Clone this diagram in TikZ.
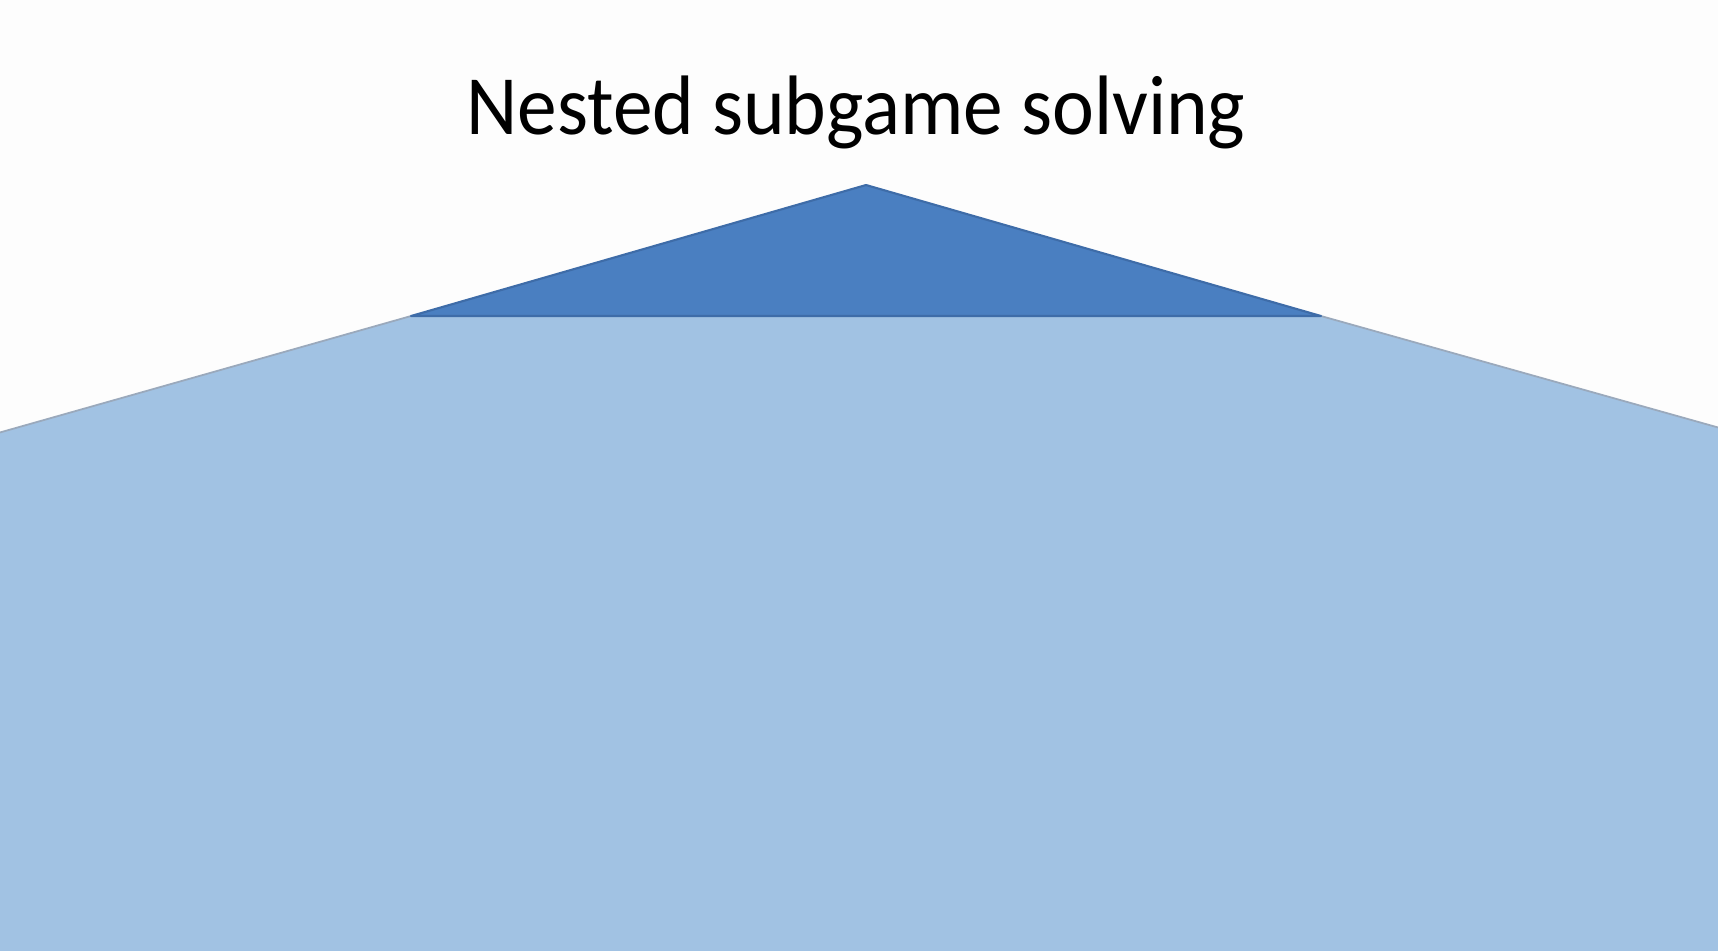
\documentclass[tikz,border=0pt]{standalone}
\usepackage{fontspec}
\setmainfont{Carlito}[FakeStretch=0.94]
\definecolor{bgwhite}{HTML}{FDFDFD}
\definecolor{darkblue}{HTML}{4A7FC1}
\definecolor{darkedge}{HTML}{3E6CA8}
\definecolor{lightblue}{HTML}{A1C2E3}
\definecolor{lightedge}{HTML}{9AA9BC}
\begin{document}
\begin{tikzpicture}[x=0.01cm,y=-0.01cm,
  titletext/.style={anchor=base,font=\fontsize{24}{28}\selectfont,text=black,inner sep=0pt},
  lightregion/.style={fill=lightblue},
  lightborder/.style={draw=lightedge,line width=0.5pt},
  darktri/.style={fill=darkblue,draw=darkedge,line width=0.6pt,line join=round}]
\fill[bgwhite] (0,0) rectangle (1718,950);
\useasboundingbox (0,0) rectangle (1718,950);
\coordinate (apex) at (866,185);
\coordinate (bl) at (411,316);
\coordinate (br) at (1321,316);
\coordinate (el) at (-2,433);
\coordinate (er) at (1720,428);
% light region
\path[lightregion] (-2,952) -- (el) -- (bl) -- (br) -- (er) -- (1720,952) -- cycle;
\path[lightborder] (el) -- (bl) -- (br) -- (er);
% dark triangle
\path[darktri] (apex) -- (br) -- (bl) -- cycle;
\node[titletext] (title) at (856,134) {Nested subgame solving};
\end{tikzpicture}
\end{document}
